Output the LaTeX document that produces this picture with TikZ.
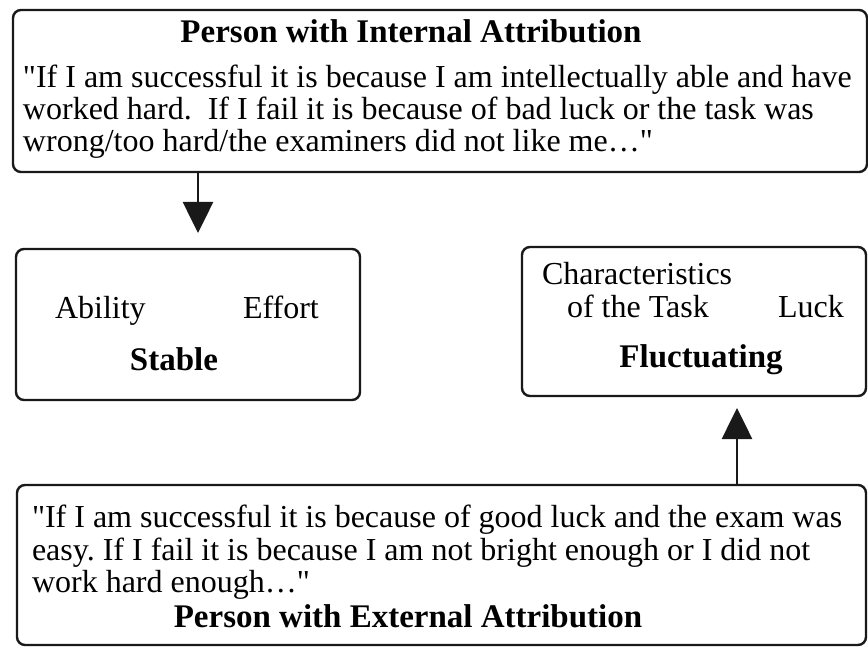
\documentclass[tikz,border=0pt]{standalone}
\usepackage{fontspec}
\setmainfont{Liberation Serif}
\usetikzlibrary{arrows.meta}
\frenchspacing
\begin{document}
\begin{tikzpicture}[x=1pt,y=-1pt,
  box/.style={draw=black!90, line width=2.4pt, rounded corners=8pt, inner sep=0pt, outer sep=0pt, rectangle},
  txt/.style={inner sep=0pt, outer sep=0pt, font=\fontsize{32}{32}\selectfont},
  head/.style={txt, font=\fontsize{33}{33}\selectfont\bfseries},
  arr/.style={line width=2.6pt, draw=black!90, -{Triangle[length=31pt,width=30pt]}}]
\useasboundingbox (0,0) rectangle (868,647);
\fill[white] (0,0) rectangle (868,647);

% boxes
\node[box, minimum width=854pt, minimum height=162pt] (internal) at (440,91) {};
\node[box, minimum width=344pt, minimum height=151pt] (stable) at (188,324.5) {};
\node[box, minimum width=344pt, minimum height=149pt] (fluct) at (694,321.5) {};
\node[box, minimum width=849pt, minimum height=160pt] (external) at (441.5,565) {};

% internal attribution
\node[head, anchor=base] (ihead) at (411,43) {Person with Internal Attribution};
\node[txt, anchor=base west] (ia) at (23,88) {\textquotedbl If I am successful it is because I am intellectually able and have};
\node[txt, anchor=base west] (ib) at (23,120) {worked hard.\ \ If I fail it is because of bad luck or the task was};
\node[txt, anchor=base west] (ic) at (23,152) {wrong/too hard/the examiners did not like me\ldots\textquotedbl};

% stable causes
\node[txt, anchor=base west] (ability) at (55,318) {Ability};
\node[txt, anchor=base west] (effort) at (243,318) {Effort};
\node[head, anchor=base] (stablelbl) at (174,370) {Stable};

% fluctuating causes
\node[txt, anchor=base west] (charA) at (542,285) {Characteristics};
\node[txt, anchor=base west] (charB) at (567,317) {of the Task};
\node[txt, anchor=base west] (luck) at (778,317) {Luck};
\node[head, anchor=base] (fluctlbl) at (701,367) {Fluctuating};

% external attribution
\node[txt, anchor=base west] (ea) at (32,527) {\textquotedbl If I am successful it is because of good luck and the exam was};
\node[txt, anchor=base west] (eb) at (32,560) {easy. If I fail it is because I am not bright enough or I did not};
\node[txt, anchor=base west] (ec) at (32,592) {work hard enough\ldots\textquotedbl};
\node[head, anchor=base] (ehead) at (408,627) {Person with External Attribution};

% connectors
\coordinate (dx) at (198,0);
\coordinate (ux) at (737,0);
\draw[arr, shorten >=16pt] (internal.south -| dx) -- (stable.north -| dx);
\draw[arr, shorten >=12pt] (external.north -| ux) -- (fluct.south -| ux);
\end{tikzpicture}
\end{document}
